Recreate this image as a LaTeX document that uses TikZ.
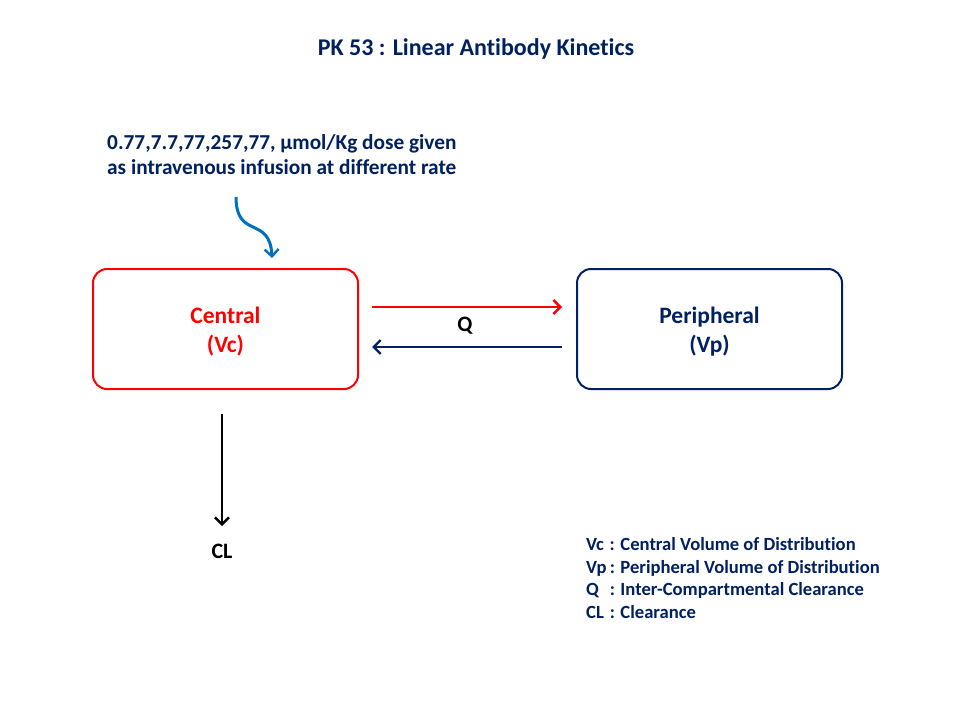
\documentclass[tikz,border=0pt]{standalone}
\usepackage{fontspec}
\setmainfont[Ligatures=NoCommon]{Carlito}
\usetikzlibrary{arrows.meta}
\definecolor{navy}{HTML}{002060}
\definecolor{pred}{HTML}{FF0000}
\definecolor{pblue}{HTML}{0070C0}
\tikzset{
  comp/.style={draw, line width=2pt, rounded corners=14pt, minimum width=265pt, minimum height=120pt, align=center, font=\fontsize{23.5}{30}\selectfont\bfseries},
  arr/.style={line width=2.6pt, -{Straight Barb[length=7pt,width=14pt,line width=2.4pt]}},
  lbl/.style={font=\fontsize{22}{25}\selectfont\bfseries}
}
\newcommand{\boxtxt}[2]{\raisebox{-3pt}[\height][\depth]{\begin{tabular}{@{}c@{}}#1\\[-1pt]#2\end{tabular}}}
\begin{document}
\begin{tikzpicture}[x=1pt,y=-1pt]
\useasboundingbox[fill=white] (0,0) rectangle (960,720);
\node[font=\fontsize{24}{28}\selectfont\bfseries, text=navy] (title) at (476,49) {PK 53 : Linear Antibody Kinetics};
\node[font=\fontsize{21.3}{25}\selectfont\bfseries, text=navy, align=left, anchor=north west, inner sep=0pt] (dose) at (107,134) {0.77,7.7,77,257,77, µmol/Kg dose given\\as intravenous infusion at different rate};
\node[comp, pred] (central) at (225.5,329) {\boxtxt{Central}{(Vc)}};
\node[comp, navy] (periph) at (709.5,329) {\boxtxt{Peripheral}{(Vp)}};
\coordinate (c1) at (372,307);
\coordinate (p1) at (562,307);
\coordinate (p2) at (562,347);
\coordinate (c2) at (372,347);
\draw[arr, pred] (c1) -- (p1);
\draw[arr, navy] (p2) -- (c2);
\node[lbl] (q) at (465,326) {Q};
\coordinate (cl0) at (222,414);
\coordinate (cl1) at (222,526);
\draw[arr, black] (cl0) -- (cl1);
\node[lbl] (cl) at (222,551) {CL};
\coordinate (d0) at (236,197);
\coordinate (d1) at (272,258);
\draw[arr, pblue, line width=3pt] (d0) .. controls (236,240) and (270,215) .. (d1);
\node[text=navy, font=\fontsize{18.6}{22.5}\selectfont\bfseries, anchor=north west, inner sep=0pt] (legend) at (586,535) {%
\begin{tabular}{@{}l@{\,}l@{}}
Vc & : Central Volume of Distribution\\
Vp & : Peripheral Volume of Distribution\\
Q & : Inter-Compartmental Clearance\\
CL & : Clearance
\end{tabular}};
\end{tikzpicture}
\end{document}
